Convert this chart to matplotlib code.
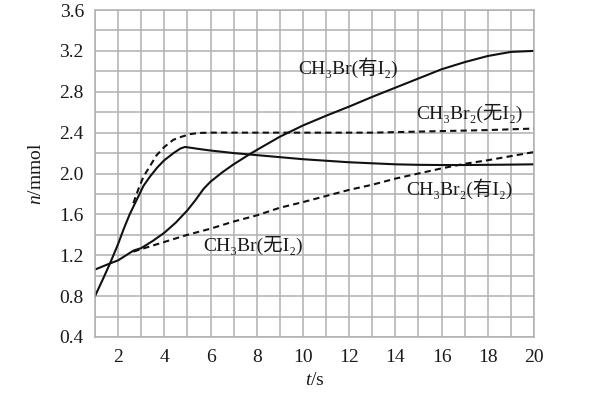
import matplotlib.pyplot as plt
from matplotlib.ticker import MultipleLocator

plt.rcParams['font.family'] = ['Liberation Serif', 'DejaVu Serif', 'Noto Sans CJK SC']
plt.rcParams['mathtext.fontset'] = 'custom'
plt.rcParams['mathtext.rm'] = 'Liberation Serif'
plt.rcParams['mathtext.it'] = 'Liberation Serif:italic'

# values
# CH3Br (with I2), solid
t_ch3br_i2 = [1, 1.65, 2, 2.66, 3, 3.5, 4, 4.5, 5, 5.35, 5.7, 6, 6.5, 7, 7.7, 8,
              9, 10, 11, 12, 13, 14, 15, 16, 17, 18, 19, 20]
n_ch3br_i2 = [1.06, 1.12, 1.15, 1.245, 1.27, 1.34, 1.42, 1.52, 1.64, 1.74, 1.85, 1.92,
              2.01, 2.09, 2.19, 2.23, 2.36, 2.47, 2.565, 2.655, 2.75, 2.84, 2.93,
              3.02, 3.09, 3.15, 3.19, 3.2]

# CH3Br2 (with I2), solid
t_ch3br2_i2 = [1, 1.33, 1.65, 2, 2.23, 2.5, 2.8, 3.1, 3.38, 3.7, 4, 4.4, 4.7, 4.9,
               5.5, 6, 7, 8, 9, 10, 11, 12, 13, 14, 15, 16, 17, 18, 19, 20]
n_ch3br2_i2 = [0.8, 0.96, 1.12, 1.31, 1.45, 1.6, 1.74, 1.88, 1.97, 2.06, 2.13, 2.2,
               2.245, 2.26, 2.24, 2.225, 2.2, 2.18, 2.16, 2.14, 2.125, 2.11, 2.1,
               2.09, 2.085, 2.083, 2.083, 2.085, 2.087, 2.09]

# CH3Br2 (without I2), dashed
t_ch3br2_no = [2.66, 2.9, 3.1, 3.4, 3.67, 4, 4.39, 4.75, 5.1, 5.5, 6, 8, 10, 12, 13,
               14, 16, 18, 20]
n_ch3br2_no = [1.71, 1.86, 1.97, 2.08, 2.18, 2.26, 2.33, 2.36, 2.385, 2.397, 2.4, 2.4,
               2.4, 2.4, 2.4, 2.405, 2.415, 2.425, 2.44]

# CH3Br (without I2), dashed
t_ch3br_no = [2.66, 3, 4, 5, 6, 7, 8, 9, 10, 11, 12, 13, 14, 15, 16, 17, 18, 19, 20]
n_ch3br_no = [1.235, 1.26, 1.33, 1.40, 1.46, 1.53, 1.59, 1.665, 1.72, 1.78, 1.84,
              1.89, 1.95, 2.0, 2.05, 2.095, 2.13, 2.17, 2.21]

x_ticks = [2, 4, 6, 8, 10, 12, 14, 16, 18, 20]
y_ticks = [0.4, 0.8, 1.2, 1.6, 2.0, 2.4, 2.8, 3.2, 3.6]

fig = plt.figure(figsize=(6.07, 3.96), dpi=100)
ax = fig.add_axes([0.1565, 0.149, 0.7232, 0.8257])

dash = (0, (3.0, 2.0))
ax.plot(t_ch3br_i2, n_ch3br_i2, color='#111111', lw=1.5)
ax.plot(t_ch3br2_i2, n_ch3br2_i2, color='#111111', lw=1.5)
ax.plot(t_ch3br2_no, n_ch3br2_no, color='#111111', lw=1.5, linestyle=dash)
ax.plot(t_ch3br_no, n_ch3br_no, color='#111111', lw=1.5, linestyle=dash)

ax.set_xlim(1, 20)
ax.set_ylim(0.4, 3.6)
ax.set_xticks(x_ticks)
ax.set_yticks(y_ticks)
ax.set_yticklabels(['%.1f' % v for v in y_ticks])
ax.xaxis.set_minor_locator(MultipleLocator(1))
ax.yaxis.set_minor_locator(MultipleLocator(0.2))
ax.grid(which='both', color='#b0b0b0', lw=1.1)
ax.set_axisbelow(True)
ax.tick_params(which='both', length=0, labelsize=14, colors='#1a1a1a')
ax.tick_params(axis='x', pad=9)
ax.tick_params(axis='y', pad=8)
for s in ax.spines.values():
    s.set_color('#b0b0b0')
    s.set_linewidth(1.1)

ax.set_xlabel('$t$/s', fontsize=14, color='#1a1a1a', labelpad=4)
ax.set_ylabel('$n$/mmol', fontsize=14, color='#1a1a1a', labelpad=10)

# curve labels
lab = dict(fontsize=14, color='#1a1a1a', ha='center', va='center')
ax.text(11.95, 3.04, 'CH₃Br(有I₂)', **lab)
ax.text(17.2, 2.59, 'CH₃Br₂(无I₂)', **lab)
ax.text(16.76, 1.85, 'CH₃Br₂(有I₂)', **lab)
ax.text(7.84, 1.30, 'CH₃Br(无I₂)', **lab)

fig.savefig('out.png', dpi=100)
